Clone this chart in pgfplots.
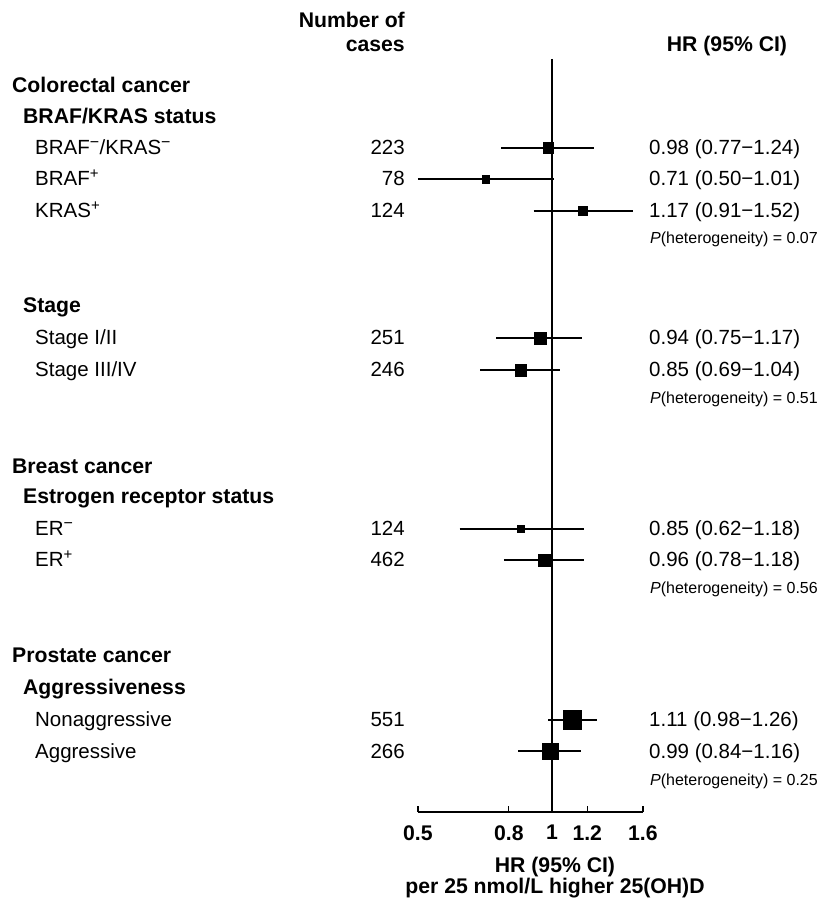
\documentclass[border=0pt]{standalone}
\usepackage{pgfplots}
\pgfplotsset{compat=1.18}
\usepackage{pgfplotstable}
\usepackage{fontspec}
\setmainfont{Liberation Sans}

% y = -(pixel row of the estimate), s = side of the square (px)
\pgfplotstableread{
y    hr   lo   hi   s
-148 0.98 0.77 1.24 11
-179 0.71 0.50 1.01 8
-211 1.17 0.91 1.52 9.5
-338 0.94 0.75 1.17 12
-370 0.85 0.69 1.04 12
-529 0.85 0.62 1.18 7.5
-560 0.96 0.78 1.18 12
-720 1.11 0.98 1.26 19
-751 0.99 0.84 1.16 16
}\est

% confidence-interval segments
\pgfplotstableread{
x    y
0.77 -148
1.24 -148
nan  nan
0.50 -179
1.01 -179
nan  nan
0.91 -211
1.52 -211
nan  nan
0.75 -338
1.17 -338
nan  nan
0.69 -370
1.04 -370
nan  nan
0.62 -529
1.18 -529
nan  nan
0.78 -560
1.18 -560
nan  nan
0.98 -720
1.26 -720
nan  nan
0.84 -751
1.16 -751
}\cis

\newcommand{\fs}{\fontsize{20.5}{24}\selectfont}
\newcommand{\fb}{\fontsize{21.2}{24}\selectfont\bfseries}
\newcommand{\fsp}{\fontsize{16}{19}\selectfont}
\newcommand{\sminus}{\textsuperscript{\fontsize{16}{16}\selectfont −}}
\newcommand{\splus}{\textsuperscript{\fontsize{15}{15}\selectfont +}}

\begin{document}
\begin{tikzpicture}[font=\fs, every node/.style={inner sep=0pt}]
\begin{axis}[
  xmode=log, xmin=0.5, xmax=1.6, ymin=-812, ymax=-59,
  width=225pt, height=753pt, scale only axis,
  axis x line*=bottom, axis y line=none,
  xtick={0.5,0.8,1,1.2,1.6}, xticklabels={0.5,0.8,1,1.2,1.6},
  minor xtick={},
  tick align=inside, major tick length=6pt,
  xticklabel style={font=\fb, anchor=north, inner sep=0pt, yshift=-13pt},
  axis line style={line width=1.2pt, black},
  every tick/.style={line width=1.2pt, black},
  clip=false, unbounded coords=jump,
]
% reference line
\addplot[black, line width=1.3pt] coordinates {(1,-59) (1,-812)};
% CIs
\addplot[black, line width=1.2pt, mark=none] table[x=x, y=y]{\cis};
% estimates
\addplot[scatter, only marks, mark=square*,
  scatter/use mapped color={draw=black, fill=black},
  mark options={line width=0.3pt},
  visualization depends on={\thisrow{s} \as \side},
  scatter/@pre marker code/.append style={/tikz/mark size=(\side-0.3)/2},
  point meta=explicit] table[x=hr, y=y, meta=s]{\est};

% bounding box
\path ([xshift=-552pt]axis cs:1,0) rectangle ([xshift=280pt]axis cs:1,-901);

% column headers
\node[anchor=base east, font=\fb] at ([xshift=-147pt]axis cs:1,-28) {Number of};
\node[anchor=base east, font=\fb] at ([xshift=-147pt]axis cs:1,-52) {cases};
\node[anchor=base, font=\fb] at ([xshift=175pt]axis cs:1,-52) {HR (95\% CI)};

% group headers
\node[anchor=base west, font=\fb] at ([xshift=-540pt]axis cs:1,-93) {Colorectal cancer};
\node[anchor=base west, font=\fb] at ([xshift=-529pt]axis cs:1,-124) {BRAF/KRAS status};
\node[anchor=base west, font=\fb] at ([xshift=-529pt]axis cs:1,-313) {Stage};
\node[anchor=base west, font=\fb] at ([xshift=-540pt]axis cs:1,-474) {Breast cancer};
\node[anchor=base west, font=\fb] at ([xshift=-529pt]axis cs:1,-504) {Estrogen receptor status};
\node[anchor=base west, font=\fb] at ([xshift=-540pt]axis cs:1,-663) {Prostate cancer};
\node[anchor=base west, font=\fb] at ([xshift=-529pt]axis cs:1,-695) {Aggressiveness};

% row labels
\node[anchor=base west] at ([xshift=-517pt]axis cs:1,-155) {BRAF\sminus/KRAS\sminus};
\node[anchor=base west] at ([xshift=-517pt]axis cs:1,-186) {BRAF\splus};
\node[anchor=base west] at ([xshift=-517pt]axis cs:1,-218) {KRAS\splus};
\node[anchor=base west] at ([xshift=-517pt]axis cs:1,-345) {Stage I/II};
\node[anchor=base west] at ([xshift=-517pt]axis cs:1,-377) {Stage III/IV};
\node[anchor=base west] at ([xshift=-517pt]axis cs:1,-536) {ER\sminus};
\node[anchor=base west] at ([xshift=-517pt]axis cs:1,-567) {ER\splus};
\node[anchor=base west] at ([xshift=-517pt]axis cs:1,-727) {Nonaggressive};
\node[anchor=base west] at ([xshift=-517pt]axis cs:1,-758) {Aggressive};

% numbers of cases
\node[anchor=base east] at ([xshift=-147pt]axis cs:1,-155) {223};
\node[anchor=base east] at ([xshift=-147pt]axis cs:1,-186) {78};
\node[anchor=base east] at ([xshift=-147pt]axis cs:1,-218) {124};
\node[anchor=base east] at ([xshift=-147pt]axis cs:1,-345) {251};
\node[anchor=base east] at ([xshift=-147pt]axis cs:1,-377) {246};
\node[anchor=base east] at ([xshift=-147pt]axis cs:1,-536) {124};
\node[anchor=base east] at ([xshift=-147pt]axis cs:1,-567) {462};
\node[anchor=base east] at ([xshift=-147pt]axis cs:1,-727) {551};
\node[anchor=base east] at ([xshift=-147pt]axis cs:1,-758) {266};

% HR (95% CI)
\node[anchor=base west] at ([xshift=97pt]axis cs:1,-155) {0.98 (0.77−1.24)};
\node[anchor=base west] at ([xshift=97pt]axis cs:1,-186) {0.71 (0.50−1.01)};
\node[anchor=base west] at ([xshift=97pt]axis cs:1,-218) {1.17 (0.91−1.52)};
\node[anchor=base west] at ([xshift=97pt]axis cs:1,-345) {0.94 (0.75−1.17)};
\node[anchor=base west] at ([xshift=97pt]axis cs:1,-377) {0.85 (0.69−1.04)};
\node[anchor=base west] at ([xshift=97pt]axis cs:1,-536) {0.85 (0.62−1.18)};
\node[anchor=base west] at ([xshift=97pt]axis cs:1,-567) {0.96 (0.78−1.18)};
\node[anchor=base west] at ([xshift=97pt]axis cs:1,-727) {1.11 (0.98−1.26)};
\node[anchor=base west] at ([xshift=97pt]axis cs:1,-758) {0.99 (0.84−1.16)};

% heterogeneity
\node[anchor=base east, font=\fsp] at ([xshift=266pt]axis cs:1,-244) {\textit{P}(heterogeneity) = 0.07};
\node[anchor=base east, font=\fsp] at ([xshift=266pt]axis cs:1,-404) {\textit{P}(heterogeneity) = 0.51};
\node[anchor=base east, font=\fsp] at ([xshift=266pt]axis cs:1,-594) {\textit{P}(heterogeneity) = 0.56};
\node[anchor=base east, font=\fsp] at ([xshift=266pt]axis cs:1,-785) {\textit{P}(heterogeneity) = 0.25};

% x label
\node[anchor=base, font=\fb] at ([xshift=3pt]axis cs:1,-872) {HR (95\% CI)};
\node[anchor=base, font=\fb] at ([xshift=3pt]axis cs:1,-893) {per 25 nmol/L higher 25(OH)D};
\end{axis}
\end{tikzpicture}
\end{document}
